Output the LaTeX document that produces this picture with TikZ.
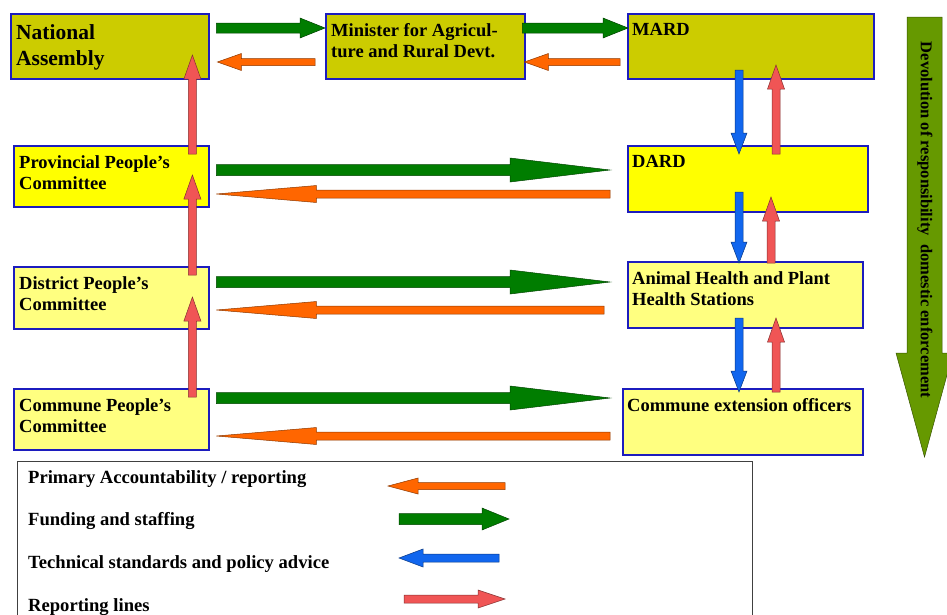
\documentclass[tikz,border=0pt]{standalone}
\usepackage{fontspec}
\setmainfont{Liberation Serif}
\usetikzlibrary{calc,positioning}
\definecolor{boxblue}{RGB}{28,28,190}
\definecolor{olivebox}{RGB}{204,204,0}
\definecolor{brightbox}{RGB}{255,255,0}
\definecolor{palebox}{RGB}{255,255,128}
\definecolor{fundgreen}{RGB}{0,125,0}
\definecolor{accorange}{RGB}{255,102,0}
\definecolor{techblue}{RGB}{17,102,238}
\definecolor{repred}{RGB}{240,85,85}
\definecolor{devgreen}{RGB}{102,153,0}
\tikzset{
  box/.style={draw=boxblue, line width=2.4pt, anchor=north west, inner sep=0pt},
  lbl/.style={anchor=north west, xshift=6pt, yshift=-10pt, inner sep=0pt, align=left,
    font=\fontsize{18.5}{21.5}\selectfont\bfseries},
  legtext/.style={anchor=base west, inner sep=0pt, font=\fontsize{18.6}{21.5}\selectfont\bfseries},
  % block arrow: colour, shaft half width, head length, head half width
  fat/.style n args={4}{fill=#1, draw=#1!55!black, line width=0.5pt, line join=miter,
    to path={
      ($(\tikztostart)!#2!90:(\tikztotarget)$)
      -- ($(\tikztotarget)!#3!(\tikztostart)!#2!-90:(\tikztostart)$)
      -- ($(\tikztotarget)!#3!(\tikztostart)!#4!-90:(\tikztostart)$)
      -- (\tikztotarget)
      -- ($(\tikztotarget)!#3!(\tikztostart)!#4!90:(\tikztostart)$)
      -- ($(\tikztotarget)!#3!(\tikztostart)!#2!90:(\tikztostart)$)
      -- ($(\tikztostart)!#2!-90:(\tikztotarget)$)
      -- cycle}},
  fund/.style={fat={fundgreen}{5pt}{25pt}{10pt}},
  acc/.style={fat={accorange}{3.5pt}{24pt}{8.5pt}},
  longfund/.style={fat={fundgreen}{5.5pt}{100pt}{12pt}},
  longacc/.style={fat={accorange}{4pt}{100pt}{8.5pt}},
  tech/.style={fat={techblue}{4pt}{21pt}{8pt}},
  rep/.style={fat={repred}{4pt}{24pt}{8.5pt}},
}
\begin{document}
\begin{tikzpicture}[x=1pt,y=-1pt]
\useasboundingbox (0,0) rectangle (947,614);
% top row
\node[box, fill=olivebox, minimum width=198pt, minimum height=65pt,
  label={[lbl, yshift=-1pt, font=\fontsize{21.5}{26}\selectfont\bfseries]north west:{National\\Assembly}}] (nat) at (10,13) {};
\node[box, fill=olivebox, minimum width=199pt, minimum height=65pt,
  label={[lbl]north west:{Minister for Agricul-\\ture and Rural Devt.}}] (min) at (325,13) {};
\node[box, fill=olivebox, minimum width=246pt, minimum height=65pt,
  label={[lbl, xshift=-1pt]north west:{MARD}}] (mard) at (627,13) {};
% left column
\node[box, fill=brightbox, minimum width=195pt, minimum height=61pt,
  label={[lbl]north west:{Provincial People's\\Committee}}] (prov) at (13,145) {};
\node[box, fill=palebox, minimum width=195pt, minimum height=62pt,
  label={[lbl]north west:{District People's\\Committee}}] (dist) at (13,266) {};
\node[box, fill=palebox, minimum width=195pt, minimum height=61pt,
  label={[lbl]north west:{Commune People's\\Committee}}] (comm) at (13,388) {};
% right column
\node[box, fill=brightbox, minimum width=240pt, minimum height=66pt,
  label={[lbl, xshift=-1pt]north west:{DARD}}] (dard) at (627,145) {};
\node[box, fill=palebox, minimum width=235pt, minimum height=66pt,
  label={[lbl, xshift=-1pt]north west:{Animal Health and Plant\\Health Stations}}] (ahp) at (627,261) {};
\node[box, fill=palebox, minimum width=240pt, minimum height=66pt,
  label={[lbl, xshift=-1pt]north west:{Commune extension officers}}] (ceo) at (622,388) {};

% top row arrows
\draw[fund] ([xshift=6pt,yshift=-15pt]nat.north east) to ([yshift=-15pt]min.north west);
\draw[acc] ([xshift=-10pt,yshift=-49pt]min.north west) to ([xshift=7pt,yshift=-49pt]nat.north east);
\draw[fund] ([xshift=-4pt,yshift=-15pt]min.north east) to ([xshift=1pt,yshift=-15pt]mard.north west);
\draw[acc] ([xshift=-7pt,yshift=-49pt]mard.north west) to ([xshift=-2pt,yshift=-49pt]min.north east);

% long horizontal arrows
\draw[longfund] ([xshift=6pt,yshift=-25pt]prov.north east) to ([xshift=-17pt,yshift=-25pt]dard.north west);
\draw[longacc] ([xshift=-17pt,yshift=-49pt]dard.north west) to ([xshift=6pt,yshift=-49pt]prov.north east);
\draw[longfund] ([xshift=6pt,yshift=-16pt]dist.north east) to ([xshift=-17pt,yshift=-21pt]ahp.north west);
\draw[longacc] ([xshift=-23pt,yshift=-49pt]ahp.north west) to ([xshift=6pt,yshift=-44pt]dist.north east);
\draw[longfund] ([xshift=6pt,yshift=-10pt]comm.north east) to ([xshift=-12pt,yshift=-10pt]ceo.north west);
\draw[longacc] ([xshift=-12pt,yshift=-48pt]ceo.north west) to ([xshift=6pt,yshift=-48pt]comm.north east);

% reporting up the left column
\draw[rep] ([xshift=-18pt,yshift=-9pt]prov.north east) to ([xshift=-18pt,yshift=-42pt]nat.north east);
\draw[rep] ([xshift=-18pt,yshift=-9pt]dist.north east) to ([xshift=-18pt,yshift=-30pt]prov.north east);
\draw[rep] ([xshift=-18pt,yshift=-9pt]comm.north east) to ([xshift=-18pt,yshift=-31pt]dist.north east);

% right column, down and up
\draw[tech] ([xshift=112pt,yshift=-57pt]mard.north west) to ([xshift=112pt,yshift=-9pt]dard.north west);
\draw[rep] ([xshift=149pt,yshift=-9pt]dard.north west) to ([xshift=149pt,yshift=-52pt]mard.north west);
\draw[tech] ([xshift=112pt,yshift=-47pt]dard.north west) to ([xshift=112pt,yshift=-2pt]ahp.north west);
\draw[rep] ([xshift=144pt,yshift=-2pt]ahp.north west) to ([xshift=144pt,yshift=-52pt]dard.north west);
\draw[tech] ([xshift=112pt,yshift=-57pt]ahp.north west) to ([xshift=117pt,yshift=-4pt]ceo.north west);
\draw[rep] ([xshift=154pt,yshift=-4pt]ceo.north west) to ([xshift=149pt,yshift=-57pt]ahp.north west);

% devolution arrow
\coordinate (devtop) at (924.5,17);
\coordinate (devtip) at (924.5,457);
\draw[fat={devgreen}{17.5pt}{104pt}{28.5pt}] (devtop) to (devtip);
\node[rotate=-90, inner sep=0pt, font=\fontsize{16.5}{20}\selectfont\bfseries] (devtext) at (925,220)
  {Devolution of responsibility\ \ domestic enforcement};

% legend
\node[draw=black!75, line width=1pt, anchor=north west, minimum width=735pt, minimum height=156pt] (legend) at (17,461) {};
\node[legtext] (legacc) at (28,483) {Primary Accountability / reporting};
\node[legtext] (legfund) at (28,525) {Funding and staffing};
\node[legtext] (legtech) at (28,568) {Technical standards and policy advice};
\node[legtext] (legrep) at (28,611) {Reporting lines};
\coordinate (accA) at (505,486);  \coordinate (accB) at (388,486);
\coordinate (fundA) at (399,519); \coordinate (fundB) at (509,519);
\coordinate (techA) at (499,558); \coordinate (techB) at (399,558);
\coordinate (repA) at (404,599);  \coordinate (repB) at (505,599);
\draw[fat={accorange}{3.5pt}{30pt}{8pt}] (accA) to (accB);
\draw[fat={fundgreen}{5.5pt}{27pt}{11pt}] (fundA) to (fundB);
\draw[fat={techblue}{4pt}{24pt}{9pt}] (techA) to (techB);
\draw[fat={repred}{4pt}{27pt}{9pt}] (repA) to (repB);
\end{tikzpicture}
\end{document}
